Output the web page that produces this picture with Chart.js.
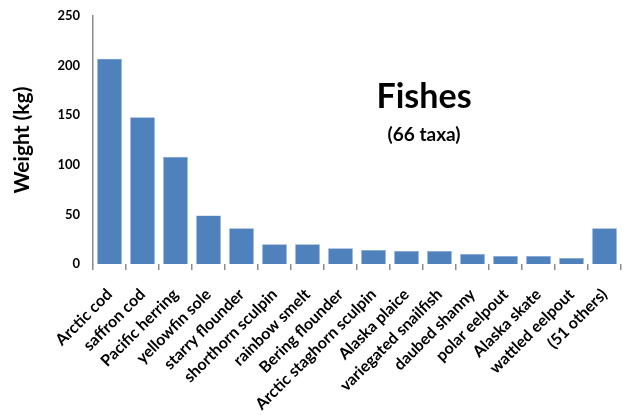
<!DOCTYPE html>
<html>
<head>
<meta charset="utf-8">
<script src="https://cdn.jsdelivr.net/npm/chart.js@4"></script>
<style>
  html, body { margin: 0; padding: 0; background: #fff; }
  #wrap { width: 628px; height: 415px; position: relative; }
</style>
</head>
<body>
<div id="wrap"><canvas id="c" width="628" height="415"></canvas></div>
<script>
// Catch weight by taxon
const taxa = [
  'Arctic cod', 'saffron cod', 'Pacific herring', 'yellowfin sole',
  'starry flounder', 'shorthorn sculpin', 'rainbow smelt', 'Bering flounder',
  'Arctic staghorn sculpin', 'Alaska plaice', 'variegated snailfish',
  'daubed shanny', 'polar eelpout', 'Alaska skate', 'wattled eelpout',
  '(51 others)'
];
const weightKg = [207, 148, 108, 49, 36, 20, 20, 16, 14, 13, 13, 10, 8, 8, 6, 36];
const yTicks = [0, 50, 100, 150, 200, 250];
const titleText = 'Fishes';
const subtitleText = '(66 taxa)';

const FONT = 'Lato, "Open Sans", sans-serif';

const headline = {
  id: 'headline',
  afterDraw(chart) {
    const { ctx, chartArea: a } = chart;
    const cx = a.left + (a.right - a.left) * 0.627;
    ctx.save();
    ctx.fillStyle = '#000';
    ctx.textAlign = 'center';
    ctx.textBaseline = 'middle';
    ctx.font = 'bold 34px ' + FONT;
    ctx.fillText(titleText, cx, a.top + 81);
    ctx.font = 'bold 19px ' + FONT;
    ctx.fillText(subtitleText, cx, a.top + 119);
    ctx.restore();
  }
};

new Chart(document.getElementById('c'), {
  type: 'bar',
  data: {
    labels: taxa,
    datasets: [{
      data: weightKg,
      backgroundColor: '#4F81BD',
      borderColor: '#7EA3D3',
      borderWidth: 0.6,
      barPercentage: 0.75,
      categoryPercentage: 1
    }]
  },
  options: {
    responsive: false,
    animation: false,
    devicePixelRatio: 1,
    layout: { padding: { top: 16, right: 7, left: 0, bottom: 0 } },
    plugins: { legend: { display: false }, tooltip: { enabled: false } },
    scales: {
      x: {
        grid: { display: true, drawOnChartArea: false, offset: true, tickLength: 6, color: '#8c8c8c', lineWidth: 1.5 },
        border: { display: false },
        ticks: {
          color: '#000',
          font: { family: FONT, size: 16, weight: 'bold' },
          maxRotation: 45, minRotation: 45, autoSkip: false, padding: 15
        },
        afterFit(s) {
          s.height = 415 - 264;
          s.paddingLeft = 0;
          s.paddingRight = 0;
        }
      },
      y: {
        min: 0, max: 250,
        afterBuildTicks(s) { s.ticks = yTicks.map(v => ({ value: v })); },
        grid: { display: false, drawTicks: false },
        border: { display: true, color: '#8c8c8c', width: 1.5 },
        ticks: {
          color: '#000',
          font: { family: FONT, size: 13, weight: 'bold' },
          padding: 13
        },
        title: {
          display: true, text: 'Weight (kg)', color: '#000',
          font: { family: FONT, size: 21, weight: 'bold' }, padding: { top: 10, bottom: 4 }
        },
        afterFit(s) { s.width = 93; s.paddingTop = 0; s.paddingBottom = 0; }
      }
    }
  },
  plugins: [headline]
});
</script>
</body>
</html>
